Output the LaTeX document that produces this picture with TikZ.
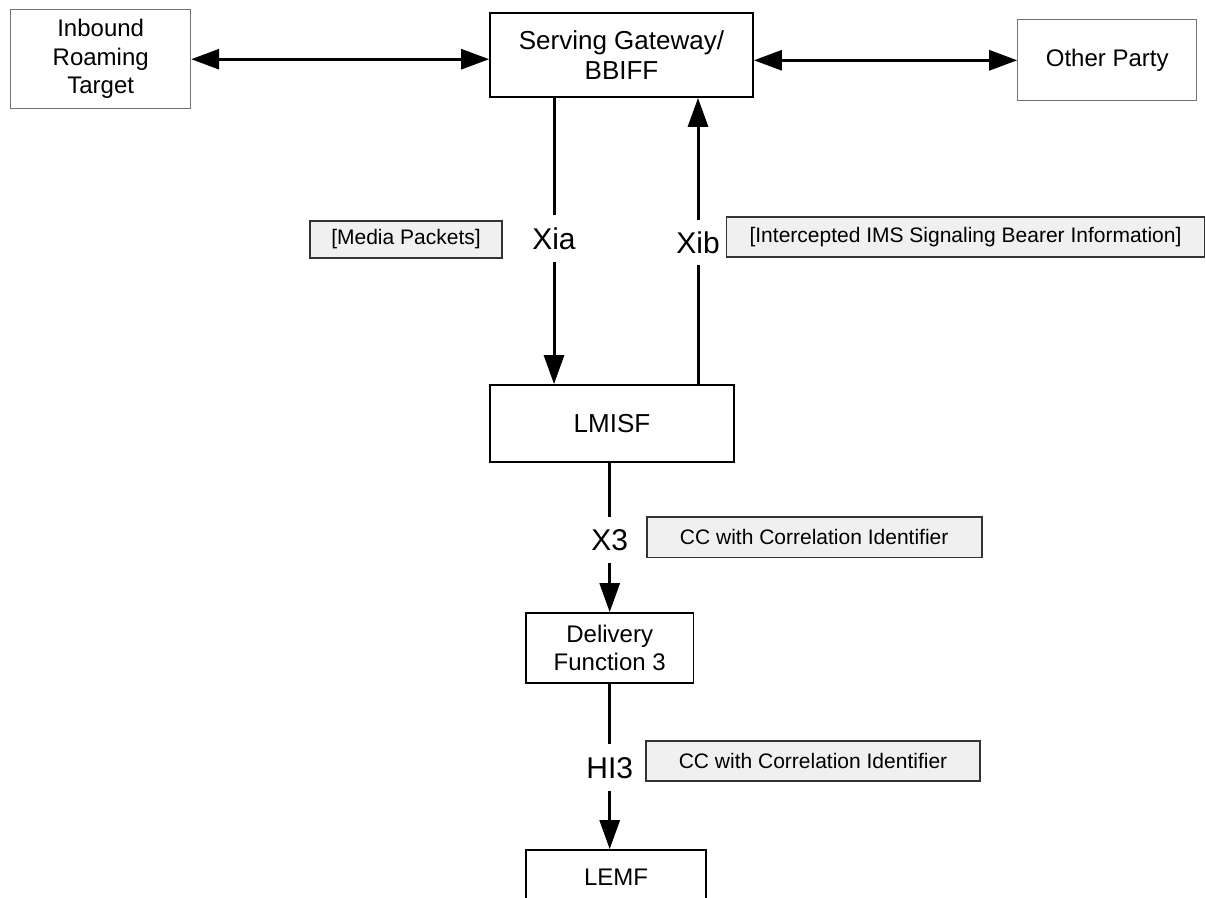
\documentclass[tikz,border=0pt]{standalone}
\usepackage{fontspec}
\setmainfont{Liberation Sans}
\usetikzlibrary{arrows.meta}
\begin{document}
\begin{tikzpicture}[x=1pt,y=-1pt,
  box/.style={draw=black,line width=1.8pt,fill=white,inner sep=0pt,align=center,font=\fontsize{24}{28.5}\selectfont},
  bigbox/.style={box,font=\fontsize{26}{29.5}\selectfont},
  lightbox/.style={box,draw=black!55,line width=1pt},
  note/.style={draw=black!80,line width=1.6pt,fill=black!6,inner sep=0pt,font=\fontsize{21}{25}\selectfont},
  iflabel/.style={inner sep=0pt,font=\fontsize{30}{36}\selectfont,text height=21.5pt,text depth=0pt},
  conn/.style={line width=3pt},
  arrowend/.style={-{Triangle[length=29pt,width=20pt]}},
  dbl/.style={{Triangle[length=28pt,width=20pt]}-{Triangle[length=28pt,width=20pt]}},
]
\clip (0,0) rectangle (1206,897);
\fill[white] (0,0) rectangle (1206,897);

% main boxes
\node[lightbox,minimum width=180pt,minimum height=99pt] (in) at (100.7,59.2) {Inbound\\Roaming\\Target};
\node[bigbox,minimum width=263pt,minimum height=84pt] (sgw) at (621.5,55) {Serving Gateway/\\BBIFF};
\node[lightbox,minimum width=179pt,minimum height=81pt] (op) at (1107.2,60.3) {Other Party};
\node[bigbox,minimum width=244pt,minimum height=77pt] (lm) at (612,423.5) {LMISF};
\node[box,minimum width=167.5pt,minimum height=70pt] (df) at (609.7,648) {Delivery\\Function 3};
\node[box,minimum width=180pt,minimum height=54pt] (lemf) at (616,877) {LEMF};

% interface labels
\node[iflabel,minimum height=47pt] (xia) at (554,238.5) {Xia};
\node[iflabel,minimum height=45pt] (xib) at (698,242.5) {Xib};
\node[iflabel,minimum height=46pt] (x3) at (609.7,540) {X3};
\node[iflabel,minimum height=47pt] (hi3) at (609.7,767.5) {HI3};

% notes
\node[note,minimum width=192pt,minimum height=37pt] (mp) at (406,239.5) {[Media Packets]};
\node[note,minimum width=478pt,minimum height=40pt] (ib) at (965.5,237) {[Intercepted IMS Signaling Bearer Information]};
\node[note,minimum width=335pt,minimum height=40.6pt] (cc1) at (814.2,537) {CC with Correlation Identifier};
\node[note,minimum width=334pt,minimum height=40pt] (cc2) at (813,761) {CC with Correlation Identifier};

% connectors
\draw[conn,dbl] (in.east) -- (sgw.west |- in.east);
\draw[conn,dbl] (sgw.east |- op.west) -- (op.west);
\draw[conn] (sgw.south -| xia) -- (xia.north);
\draw[conn,arrowend] (xia.south) -- (lm.north -| xia);
\draw[conn] (lm.north -| xib) -- (xib.south);
\draw[conn,arrowend] (xib.north) -- (sgw.south -| xib);
\draw[conn] (lm.south -| x3) -- (x3.north);
\draw[conn,arrowend] (x3.south) -- (df.north);
\draw[conn] (df.south) -- (hi3.north);
\draw[conn,arrowend] (hi3.south) -- (lemf.north -| hi3);
\end{tikzpicture}
\end{document}
